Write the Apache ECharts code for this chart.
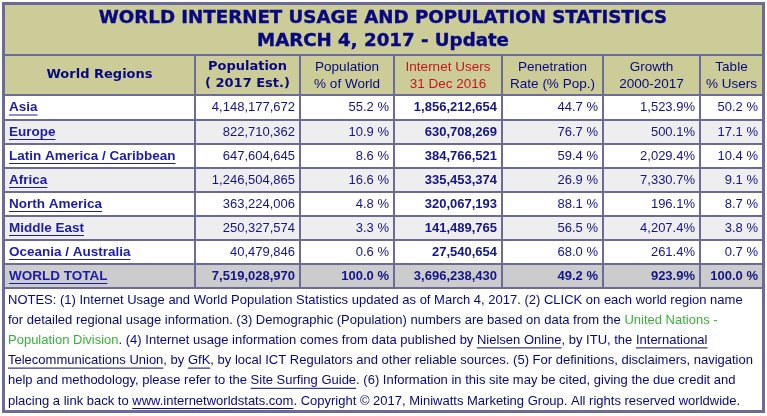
<!DOCTYPE html>
<html><head><meta charset="utf-8">
<script src="https://cdn.jsdelivr.net/npm/echarts@6/dist/echarts.min.js"></script>
<style>html,body{margin:0;padding:0;background:#fff}#c{width:767px;height:416px}</style>
</head><body><div id="c"></div>
<script>
// ---------- data ----------
const titleLines = ['WORLD INTERNET USAGE AND POPULATION STATISTICS', 'MARCH 4, 2017 - Update'];
const headerLines = [
  ['World Regions'],
  ['Population', '( 2017 Est.)'],
  ['Population', '% of World'],
  ['Internet Users', '31 Dec 2016'],
  ['Penetration', 'Rate (% Pop.)'],
  ['Growth', '2000-2017'],
  ['Table', '% Users']
];
const regions = ['Asia', 'Europe', 'Latin America / Caribbean', 'Africa', 'North America', 'Middle East', 'Oceania / Australia', 'WORLD TOTAL'];
const population = [4148177672, 822710362, 647604645, 1246504865, 363224006, 250327574, 40479846, 7519028970];
const pctOfWorld = [55.2, 10.9, 8.6, 16.6, 4.8, 3.3, 0.6, 100.0];
const internetUsers = [1856212654, 630708269, 384766521, 335453374, 320067193, 141489765, 27540654, 3696238430];
const penetration = [44.7, 76.7, 59.4, 26.9, 88.1, 56.5, 68.0, 49.2];
const growth = [1523.9, 500.1, 2029.4, 7330.7, 196.1, 4207.4, 261.4, 923.9];
const tableUsers = [50.2, 17.1, 10.4, 9.1, 8.7, 3.8, 0.7, 100.0];
// notes: [text, style] segments per line; style n=normal, g=green, u=underlined link
const notesLines = [
  [['NOTES: (1) Internet Usage and World Population Statistics updated as of March 4, 2017. (2) CLICK on each world region name', 'n']],
  [['for detailed regional usage information. (3) Demographic (Population) numbers are based on data from the ', 'n'], ['United Nations -', 'g']],
  [['Population Division', 'g'], ['. (4) Internet usage information comes from data published by ', 'n'], ['Nielsen Online', 'u'], [', by ITU, the ', 'n'], ['International', 'u']],
  [['Telecommunications Union', 'u'], [', by ', 'n'], ['GfK', 'u'], [', by local ICT Regulators and other reliable sources. (5) For definitions, disclaimers, navigation', 'n']],
  [['help and methodology, please refer to the ', 'n'], ['Site Surfing Guide', 'u'], ['. (6) Information in this site may be cited, giving the due credit and', 'n']],
  [['placing a link back to ', 'n'], ['www.internetworldstats.com', 'u'], ['. Copyright \u00a9 2017, Miniwatts Marketing Group. All rights reserved worldwide.', 'n']]
];

// ---------- layout / style ----------
const COLS = [4, 195, 300, 394, 502, 603, 700, 763];
const ROWS = [55, 95, 120, 144, 168, 192, 216, 240, 264, 288];
const TABLE = {top: 4, titleBottom: 55, notesBottom: 411};
const C = {
  border: '#6c6a98', khaki: '#cccc99', alt: '#eeeeee', total: '#cccccc',
  navy: '#08087f', text: '#14148a', link: '#1c1ca6', red: '#c4161c', green: '#38b038'
};
const F = {
  title: 'bold 18.2px "DejaVu Sans"',
  headBold: 'bold 13px "DejaVu Sans"',
  head: '13.5px "Liberation Sans"',
  cell: '13px "Liberation Sans"',
  cellBold: 'bold 13px "Liberation Sans"',
  link: 'bold 13.5px "Liberation Sans"',
  note: '13px "Liberation Sans"'
};
const mctx = document.createElement('canvas').getContext('2d');
function tw(text, font) { mctx.font = font; return mctx.measureText(text).width; }

const fInt = v => v.toLocaleString('en-US');
const f1 = v => v.toLocaleString('en-US', {minimumFractionDigits: 1, maximumFractionDigits: 1});
function cellText(c, i) {
  switch (c) {
    case 0: return regions[i];
    case 1: return fInt(population[i]);
    case 2: return f1(pctOfWorld[i]) + ' %';
    case 3: return fInt(internetUsers[i]);
    case 4: return f1(penetration[i]) + ' %';
    case 5: return f1(growth[i]) + '%';
    case 6: return f1(tableUsers[i]) + ' %';
  }
}

const cells = [];
for (let r = 0; r <= regions.length; r++) for (let c = 0; c < headerLines.length; c++) cells.push([c, r]);

function renderItem(params, api) {
  const c = api.value(0), r = api.value(1);
  const p0 = api.coord([COLS[c], ROWS[r]]);
  const p1 = api.coord([COLS[c + 1], ROWS[r + 1]]);
  const x0 = p0[0] + 1, y0 = p0[1] + 1, x1 = p1[0] - 1, y1 = p1[1] - 1;
  const children = [];
  let bg;
  if (r === 0) bg = C.khaki;
  else if (r === regions.length) bg = C.total;
  else bg = (r % 2 === 0) ? C.alt : '#ffffff';
  children.push({type: 'rect', shape: {x: x0, y: y0, width: x1 - x0, height: y1 - y0}, style: {fill: bg}});
  const cy = (y0 + y1) / 2;
  if (r === 0) {
    const lines = headerLines[c];
    const bold = (c === 0 || c === 1);
    const font = bold ? F.headBold : F.head;
    const fill = c === 3 ? C.red : C.navy;
    lines.forEach((t, k) => {
      const yy = lines.length === 1 ? cy : cy + (k === 0 ? -8 : 9);
      children.push({type: 'text', style: {text: t, x: (x0 + x1) / 2, y: yy, align: 'center', verticalAlign: 'middle', font: font, fill: fill}});
    });
  } else {
    const i = r - 1;
    const isTotal = i === regions.length - 1;
    const txt = cellText(c, i);
    if (c === 0) {
      const w = tw(txt, F.link);
      children.push({type: 'text', style: {text: txt, x: x0 + 4, y: cy, align: 'left', verticalAlign: 'middle', font: F.link, fill: C.link}});
      children.push({type: 'line', shape: {x1: x0 + 4, y1: cy + 7.5, x2: x0 + 4 + w, y2: cy + 7.5}, style: {stroke: C.link, lineWidth: 1}});
    } else {
      const font = (c === 3 || isTotal) ? F.cellBold : F.cell;
      children.push({type: 'text', style: {text: txt, x: x1 - 4, y: cy, align: 'right', verticalAlign: 'middle', font: font, fill: C.text}});
    }
  }
  return {type: 'group', children: children};
}

// title + notes graphics
const graphic = [];
const W = 767, H = 416;
graphic.push({type: 'rect', shape: {x: 2, y: 2, width: 763, height: TABLE.notesBottom}, style: {fill: C.border}, z: -10});
graphic.push({type: 'rect', shape: {x: COLS[0] + 1, y: TABLE.top + 1, width: COLS[7] - COLS[0] - 2, height: TABLE.titleBottom - TABLE.top - 2}, style: {fill: C.khaki}, z: -9});
graphic.push({type: 'rect', shape: {x: COLS[0] + 1, y: ROWS[ROWS.length - 1] + 1, width: COLS[7] - COLS[0] - 2, height: TABLE.notesBottom - ROWS[ROWS.length - 1] - 2}, style: {fill: '#ffffff'}, z: -9});
titleLines.forEach((t, k) => {
  graphic.push({type: 'text', style: {text: t, x: 383, y: k === 0 ? 18.5 : 41, align: 'center', verticalAlign: 'middle', font: F.title, fill: C.navy, stroke: C.navy, lineWidth: 0.4}, z: 5});
});
notesLines.forEach((segs, k) => {
  let x = 8;
  const y = 300 + k * 20.2;
  segs.forEach(([t, s]) => {
    const w = tw(t, F.note);
    const fill = s === 'g' ? C.green : C.navy;
    graphic.push({type: 'text', style: {text: t, x: x, y: y, align: 'left', verticalAlign: 'middle', font: F.note, fill: fill}, z: 5});
    if (s === 'u') graphic.push({type: 'line', shape: {x1: x, y1: y + 7.5, x2: x + w, y2: y + 7.5}, style: {stroke: C.navy, lineWidth: 1}, z: 5});
    x += w;
  });
});

const chart = echarts.init(document.getElementById('c'), null, {renderer: 'canvas'});
chart.setOption({
  animation: false,
  grid: {left: 0, right: 0, top: 0, bottom: 0},
  xAxis: {type: 'value', min: 0, max: W, show: false},
  yAxis: {type: 'value', min: 0, max: H, inverse: true, show: false},
  graphic: graphic,
  series: [{type: 'custom', renderItem: renderItem, data: cells, encode: {x: 0, y: 1}, clip: false}]
});
</script></body></html>
